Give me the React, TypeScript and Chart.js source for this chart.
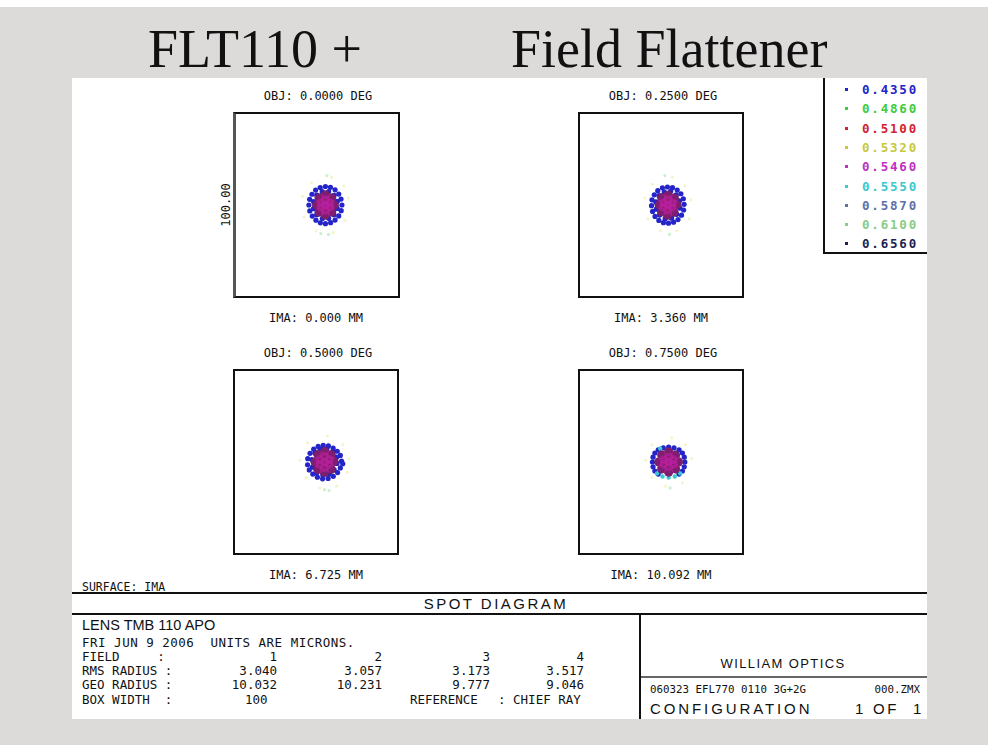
import React, { useEffect, useRef } from 'react';
import { Chart, registerables } from 'chart.js';
Chart.register(...registerables);

// ---------- data ----------
const WAVELENGTHS = ['0.4350', '0.4860', '0.5100', '0.5320', '0.5460', '0.5550', '0.5870', '0.6100', '0.6560'];
const WL_COLORS = ['#2424c8', '#3ccc3c', '#d42030', '#c8c83c', '#c030c0', '#3cc8d0', '#6070a8', '#88cc88', '#1e1e50'];
const OBJ_LABELS = ['OBJ: 0.0000 DEG', 'OBJ: 0.2500 DEG', 'OBJ: 0.5000 DEG', 'OBJ: 0.7500 DEG'];
const IMA_LABELS = ['IMA: 0.000 MM', 'IMA: 3.360 MM', 'IMA: 6.725 MM', 'IMA: 10.092 MM'];
const FIELD_NUMS = ['1', '2', '3', '4'];
const RMS_RADIUS = ['3.040', '3.057', '3.173', '3.517'];
const GEO_RADIUS = ['10.032', '10.231', '9.777', '9.046'];
const BOX_WIDTH = 100; // microns
const SCALE_LABEL = '100.00';
// spot centre (microns from box centre)
const SPOT_CENTER_X = [5.5, 4.5, 5.5, 5.0];
const SPOT_CENTER_Y = [0, 0, 0, 0];

// ray intercepts (microns, relative to spot centre) per field
const f1Blue: number[][] = [
  [10.8, 0], [10.2, 3.4], [8.7, 6.3], [6.3, 8.8], [3.3, 10.2], [0, 10.7], [-3.4, 10.1], [-6.4, 8.6], [-8.8, 6.2], [-10.3, 3.3],
  [-10.8, 0], [-10.2, -3.4], [-8.6, -6.4], [-6.2, -8.8], [-3.3, -10.3], [0, -10.8], [3.4, -10.2], [6.3, -8.7], [8.7, -6.3], [10.3, -3.3],
  [7.8, 2.1], [5.7, 5.6], [2.1, 7.8], [-2.1, 7.7], [-5.6, 5.7], [-7.8, 2.0], [-7.7, -2.1], [-5.7, -5.6], [-2.0, -7.8], [2.1, -7.7], [5.6, -5.7], [7.7, -2.0],
];
const f1Core: number[][] = [
  [5.8, 0], [4.1, 4.1], [0, 5.8], [-4.1, 4.1], [-5.8, 0], [-4.1, -4.1], [0, -5.8], [4.1, -4.1],
  [2.8, 1.2], [0, 3], [-2.8, 1.2], [-2.8, -1.2], [0, -3], [2.8, -1.2], [0, 0],
];
const f1Halo: number[][] = [[15, 4], [12, 11], [4, 16], [-9, 13], [-15, 5], [-14, -7], [-6, -15], [5, -16], [13, -9]];
const f1Green: number[][] = [[2, -17], [-3, -16.5], [1, 17]];

const f2Blue: number[][] = [
  [10.6, 0.4], [10.1, 3.6], [8.5, 6.5], [6.1, 8.6], [3.0, 10.0], [-0.3, 10.4], [-3.6, 9.9], [-6.6, 8.3], [-8.9, 5.9], [-10.4, 3.0],
  [-10.7, -0.4], [-10.0, -3.7], [-8.4, -6.6], [-5.9, -8.9], [-2.9, -10.2], [0.4, -10.5], [3.7, -9.9], [6.6, -8.4], [8.9, -5.9], [10.3, -2.9],
  [7.6, 2.4], [5.4, 5.8], [1.8, 7.9], [-2.4, 7.6], [-5.8, 5.4], [-7.9, 1.8], [-7.6, -2.4], [-5.4, -5.8], [-1.8, -7.9], [2.4, -7.6], [5.8, -5.4], [7.9, -1.8],
];
const f2Core: number[][] = [
  [5.9, 0.2], [4.2, 4.0], [0.1, 5.7], [-4.0, 4.2], [-5.7, 0.1], [-4.2, -4.0], [-0.1, -5.8], [4.0, -4.2],
  [2.9, 1.1], [0.1, 3.1], [-2.7, 1.3], [-2.9, -1.1], [-0.1, -3.0], [2.7, -1.3], [0.1, 0],
];
const f2Halo: number[][] = [[15, 3], [11, 11], [3, 16], [-10, 12], [-15, 4], [-13, -8], [-5, -15], [6, -15], [14, -8]];
const f2Green: number[][] = [[1, -17], [-2, 17]];

const f3Blue: number[][] = [
  [11.2, 0.5], [10.4, 3.8], [8.4, 6.2], [5.7, 8.0], [2.6, 9.3], [-0.8, 9.6], [-4.1, 9.0], [-7.0, 7.4], [-9.4, 5.0], [-10.9, 1.9],
  [-11.0, -1.6], [-9.9, -4.6], [-7.6, -7.0], [-4.6, -8.8], [-1.2, -9.7], [2.4, -9.5], [5.8, -8.3], [8.6, -6.1], [10.4, -3.4], [12.0, -1.0],
  [8.0, 2.8], [5.6, 6.0], [1.6, 7.6], [-2.8, 7.4], [-6.2, 5.2], [-8.2, 1.4], [-7.8, -3.0], [-5.0, -6.2], [-1.0, -7.6], [3.2, -7.0], [6.4, -4.6], [8.2, -0.8],
];
const f3Core: number[][] = [
  [6.2, 0.3], [4.4, 4.2], [0.2, 6.0], [-4.2, 4.3], [-6.1, 0], [-4.3, -4.3], [0, -6.0], [4.4, -4.2],
  [3.0, 1.4], [0, 3.2], [-3.0, 1.4], [-3.0, -1.4], [0, -3.2], [3.0, -1.4], [0.2, 0],
];
const f3Halo: number[][] = [[16, 2], [12, 10], [2, 15], [-11, 11], [-16, 1], [-12, -9], [-3, -15], [8, -14], [15, -6]];
const f3Green: number[][] = [[0, -16], [3, -16.5]];

const f4Blue: number[][] = [
  [10.6, 0], [10.2, 2.8], [9.0, 5.2], [6.8, 7.0], [-6.8, 7.0], [-9.0, 5.2], [-10.2, 2.8], [-10.6, 0], [-10.2, -2.8], [-9.0, -5.2],
  [-6.8, -7.0], [6.8, -7.0], [9.0, -5.2], [10.2, -2.8], [3.5, 8.2], [-3.5, 8.2], [0, 8.6],
];
const f4Cyan: number[][] = [[-7.6, -6.6], [-4.0, -8.4], [0, -9.0], [4.0, -8.4], [7.6, -6.6], [-5.5, 7.8]];
const f4Core: number[][] = [
  [6.4, 0], [4.5, 4.0], [0, 5.8], [-4.5, 4.0], [-6.4, 0], [-4.5, -4.0], [0, -5.8], [4.5, -4.0],
  [3.0, 1.3], [0, 2.8], [-3.0, 1.3], [-3.0, -1.3], [0, -2.8], [3.0, -1.3], [0, 0],
];
const f4Halo: number[][] = [[15, 2], [11, 10], [2, 14], [-11, 10], [-15, 1], [-11, -9], [-2, -14], [9, -12]];
const f4Green: number[][] = [[1, -15]];

const FIELD_DATA = [
  { blue: f1Blue, core: f1Core, halo: f1Halo, green: f1Green, cyan: [] as number[][] },
  { blue: f2Blue, core: f2Core, halo: f2Halo, green: f2Green, cyan: [] as number[][] },
  { blue: f3Blue, core: f3Core, halo: f3Halo, green: f3Green, cyan: [] as number[][] },
  { blue: f4Blue, core: f4Core, halo: f4Halo, green: f4Green, cyan: f4Cyan },
];

// ---------- layout ----------
const BOX_W = 166;
const BOX_H = 186;
const BOX_POS = [
  [233, 112],
  [578, 112],
  [233, 369],
  [578, 369],
];
const MONO = '"DejaVu Sans Mono", monospace';
const SANS = '"Liberation Sans", Arial, sans-serif';

function SpotBox({ idx }: { idx: number }) {
  const ref = useRef<HTMLCanvasElement>(null);
  const w = BOX_W - 4;
  const h = BOX_H - 4;
  useEffect(() => {
    const d = FIELD_DATA[idx];
    const cx = SPOT_CENTER_X[idx];
    const cy = SPOT_CENTER_Y[idx];
    const pts = (a: number[][]) => a.map(([x, y]) => ({ x: x + cx, y: y + cy }));
    const half = BOX_WIDTH / 2;
    const ds = (label: string, data: number[][], color: string, r: number, order: number) => ({
      label,
      data: pts(data),
      backgroundColor: color,
      pointRadius: r,
      pointBorderWidth: 0,
      order,
    });
    const chart = new Chart(ref.current as HTMLCanvasElement, {
      type: 'scatter',
      data: {
        datasets: [
          ds(WAVELENGTHS[3], d.halo, 'rgba(225,225,110,0.35)', 1.6, 8),
          ds(WAVELENGTHS[1], d.green, 'rgba(80,210,80,0.3)', 1.6, 7),
          ds(WAVELENGTHS[0], d.blue, WL_COLORS[0], 2.6, 6),
          ds(WAVELENGTHS[5], d.cyan, WL_COLORS[5], 2.2, 5),
          ds(WAVELENGTHS[8], d.core, WL_COLORS[8], 4.5, 4),
          ds(WAVELENGTHS[2], d.core, 'rgba(212,32,48,0.32)', 4.5, 3),
          ds(WAVELENGTHS[4], d.core, 'rgba(192,32,192,0.36)', 4.5, 2),
        ] as any,
      },
      options: {
        animation: false,
        responsive: false,
        events: [],
        layout: { padding: 0 },
        plugins: { legend: { display: false }, tooltip: { enabled: false } },
        scales: {
          x: { type: 'linear', min: -half, max: half, display: false },
          y: { type: 'linear', min: -half, max: half, display: false },
        },
      },
    });
    return () => chart.destroy();
  }, [idx]);
  const [x, y] = BOX_POS[idx];
  return (
    <div
      style={{
        position: 'absolute',
        left: x,
        top: y,
        width: w,
        height: h,
        border: '2px solid #111',
        borderLeft: idx === 0 ? '3px solid #555' : '2px solid #111',
        background: '#fff',
      }}
    >
      <canvas ref={ref} width={w} height={h} style={{ display: 'block', width: w, height: h }} />
    </div>
  );
}

type TProps = {
  x: number;
  y: number;
  align?: 'left' | 'center' | 'right';
  font?: string;
  size?: number;
  color?: string;
  ls?: number;
  weight?: string | number;
  children: React.ReactNode;
};
function T({ x, y, align = 'left', font = MONO, size = 11.6, color = '#111', ls = 0, weight = 'normal', children }: TProps) {
  const lh = Math.round(size * 1.0);
  const W = 600;
  const left = align === 'left' ? x : align === 'center' ? x - W / 2 : x - W + ls;
  return (
    <div
      style={{
        position: 'absolute',
        left,
        top: y - lh / 2,
        width: align === 'left' ? undefined : W,
        textAlign: align,
        lineHeight: lh + 'px',
        fontFamily: font,
        fontSize: size,
        color,
        letterSpacing: ls,
        fontWeight: weight as any,
        whiteSpace: 'pre',
      }}
    >
      {children}
    </div>
  );
}

function HLine({ x, y, w, t = 2, c = '#111' }: { x: number; y: number; w: number; t?: number; c?: string }) {
  return <div style={{ position: 'absolute', left: x, top: y, width: w, height: t, background: c }} />;
}
function VLine({ x, y, h, t = 2, c = '#111' }: { x: number; y: number; h: number; t?: number; c?: string }) {
  return <div style={{ position: 'absolute', left: x, top: y, width: t, height: h, background: c }} />;
}

const LEGEND_ROWS_Y = [89, 108, 128, 147, 166, 186, 205, 224, 243];
const COL_RIGHT = [277, 382, 490, 584];
const ROW_Y = [625, 642, 656, 670, 684, 699];

export default function App() {
  const titleStyle: React.CSSProperties = {
    position: 'absolute',
    top: 22,
    fontFamily: '"Liberation Serif", serif',
    fontSize: 54,
    lineHeight: '54px',
    color: '#111',
    whiteSpace: 'pre',
  };
  return (
    <div style={{ position: 'absolute', left: 0, top: 0, width: 988, height: 745, background: '#dddada', overflow: 'hidden' }}>
      <div style={{ position: 'absolute', left: 0, top: 0, width: 988, height: 7, background: '#fff' }} />
      {/* title */}
      <div style={{ ...titleStyle, left: 148 }}>FLT110 +</div>
      <div style={{ ...titleStyle, left: 511 }}>Field Flattener</div>

      {/* white panel */}
      <div style={{ position: 'absolute', left: 72, top: 78, width: 855, height: 641, background: '#fff' }} />

      {[0, 1, 2, 3].map((i) => (
        <SpotBox key={i} idx={i} />
      ))}

      {/* box labels */}
      {[0, 1, 2, 3].map((i) => {
        const [x, y] = BOX_POS[i];
        const cx = x + BOX_W / 2;
        return (
          <React.Fragment key={'l' + i}>
            <T x={cx + 2} y={y - 16} align="center" size={12}>{OBJ_LABELS[i]}</T>
            <T x={cx} y={y + BOX_H + 20} align="center" size={12}>{IMA_LABELS[i]}</T>
          </React.Fragment>
        );
      })}
      <div
        style={{
          position: 'absolute',
          left: 226 - 40,
          top: 205 - 8,
          width: 80,
          height: 16,
          lineHeight: '16px',
          textAlign: 'center',
          fontFamily: MONO,
          fontSize: 12,
          color: '#111',
          transform: 'rotate(-90deg)',
        }}
      >
        {SCALE_LABEL}
      </div>

      {/* legend */}
      <VLine x={823} y={78} h={176} t={1.5} />
      <HLine x={823} y={252} w={104} t={1.5} />
      {WAVELENGTHS.map((wl, i) => (
        <React.Fragment key={wl}>
          <div style={{ position: 'absolute', left: 845, top: LEGEND_ROWS_Y[i] - 1.5, width: 3, height: 3, background: WL_COLORS[i] }} />
          <T x={862} y={LEGEND_ROWS_Y[i]} size={12.5} ls={1.8} weight="bold" color={WL_COLORS[i]}>{wl}</T>
        </React.Fragment>
      ))}

      {/* bottom section */}
      <T x={82} y={587} size={11.5}>SURFACE: IMA</T>
      <HLine x={72} y={592} w={855} />
      <T x={496} y={603} align="center" font={SANS} size={15} ls={2.5}>SPOT DIAGRAM</T>
      <HLine x={72} y={613} w={855} />
      <VLine x={639} y={613} h={106} />

      <T x={82} y={ROW_Y[0]} font={SANS} size={14.5}>LENS TMB 110 APO</T>
      <T x={82} y={ROW_Y[1]} size={12.5} ls={0.5}>FRI JUN 9 2006  UNITS ARE MICRONS.</T>
      <T x={82} y={ROW_Y[2]} size={12.5}>{'FIELD     :'}</T>
      <T x={82} y={ROW_Y[3]} size={12.5}>RMS RADIUS :</T>
      <T x={82} y={ROW_Y[4]} size={12.5}>GEO RADIUS :</T>
      <T x={82} y={ROW_Y[5]} size={12.5}>{'BOX WIDTH  :'}</T>
      {FIELD_NUMS.map((f, i) => (
        <React.Fragment key={'c' + i}>
          <T x={COL_RIGHT[i]} y={ROW_Y[2]} align="right" size={12.5}>{f}</T>
          <T x={COL_RIGHT[i]} y={ROW_Y[3]} align="right" size={12.5}>{RMS_RADIUS[i]}</T>
          <T x={COL_RIGHT[i]} y={ROW_Y[4]} align="right" size={12.5}>{GEO_RADIUS[i]}</T>
        </React.Fragment>
      ))}
      <T x={245} y={ROW_Y[5]} size={12.5}>{String(BOX_WIDTH)}</T>
      <T x={410} y={ROW_Y[5]} size={12.5}>REFERENCE</T>
      <T x={498} y={ROW_Y[5]} size={12.5}>: CHIEF RAY</T>

      <T x={783} y={663} align="center" font={SANS} size={13} ls={1.4}>WILLIAM OPTICS</T>
      <HLine x={641} y={676} w={286} t={2} c="#666" />
      <T x={650} y={689} size={10.8}>060323 EFL770 0110 3G+2G</T>
      <T x={920} y={689} align="right" size={10.8}>000.ZMX</T>
      <T x={650} y={708} font={SANS} size={15} ls={2.9}>CONFIGURATION</T>
      <T x={855} y={708} font={SANS} size={15}>1</T>
      <T x={873} y={708} font={SANS} size={15} ls={2.5}>OF</T>
      <T x={913} y={708} font={SANS} size={15}>1</T>
    </div>
  );
}
